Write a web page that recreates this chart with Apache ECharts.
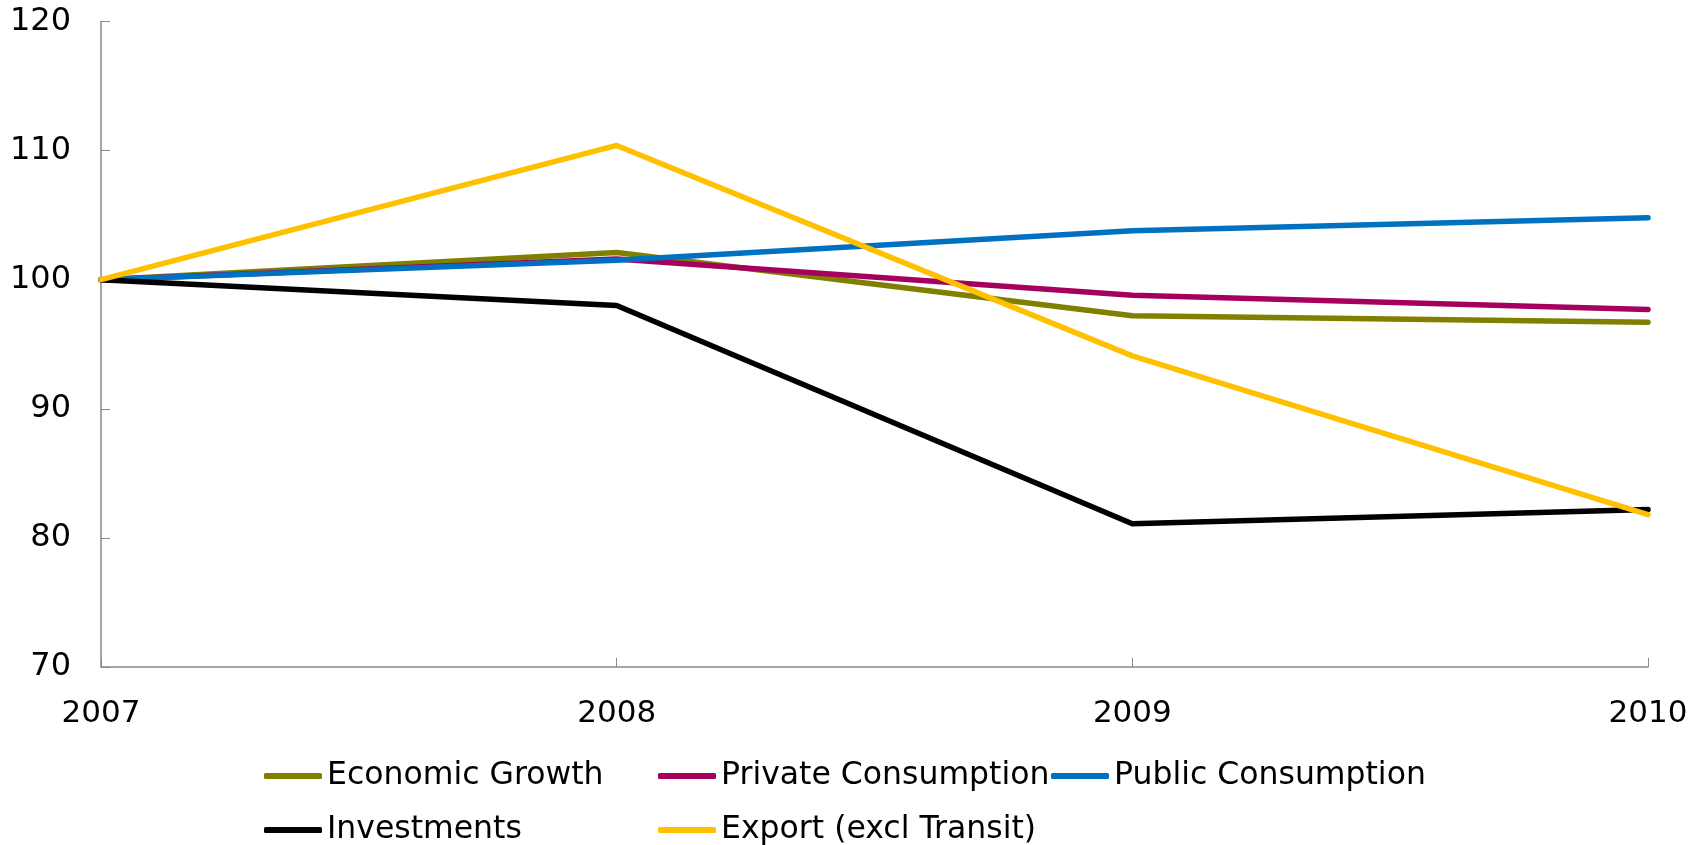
<!DOCTYPE html>
<html>
<head>
<meta charset="utf-8">
<script src="https://cdn.jsdelivr.net/npm/echarts@6/dist/echarts.min.js"></script>
<style>html,body{margin:0;padding:0;background:#fff;}#c{width:1703px;height:845px;}</style>
</head>
<body>
<div id="c"></div>
<script>
const years = ['2007', '2008', '2009', '2010'];
const economicGrowth = [100, 102.1, 97.2, 96.7];
const privateConsumption = [100, 101.6, 98.8, 97.7];
const publicConsumption = [100, 101.5, 103.8, 104.8];
const investments = [100, 98.0, 81.1, 82.2];
const exportExclTransit = [100, 110.4, 94.1, 81.8];
const yTicks = {min: 70, max: 120, step: 10};

const names = ['Economic Growth', 'Private Consumption', 'Public Consumption', 'Investments', 'Export (excl Transit)'];
const values = [economicGrowth, privateConsumption, publicConsumption, investments, exportExclTransit];
const colors = ['#7F7F00', '#A6005E', '#0070C0', '#000000', '#FFC000'];
const legendPos = [[264, 760], [658, 760], [1051, 760], [264, 814], [658, 814]];

const font = 'DejaVu Sans';
const chart = echarts.init(document.getElementById('c'));
chart.setOption({
  animation: false,
  backgroundColor: '#ffffff',
  grid: {left: 101, right: 55, top: 21.5, bottom: 178, containLabel: false},
  xAxis: {
    type: 'category', data: years, boundaryGap: false,
    axisLine: {lineStyle: {color: '#898989', width: 1.5}},
    axisTick: {inside: true, length: 9, lineStyle: {color: '#898989'}},
    axisLabel: {color: '#000', fontFamily: font, fontSize: 31, margin: 31}
  },
  yAxis: {
    type: 'value', min: yTicks.min, max: yTicks.max, interval: yTicks.step,
    splitLine: {show: false},
    axisLine: {show: true, lineStyle: {color: '#898989', width: 1.5}},
    axisTick: {show: true, inside: true, length: 9, lineStyle: {color: '#898989'}},
    axisLabel: {color: '#000', fontFamily: font, fontSize: 32, margin: 30}
  },
  legend: names.map((n, i) => ({
    data: [n], left: legendPos[i][0], top: legendPos[i][1], padding: 0,
    icon: 'roundRect', itemWidth: 58, itemHeight: 6,
    textStyle: {color: '#000', fontFamily: font, fontSize: 31.5, padding: [0, 0, 0, 0]}
  })),
  series: names.map((n, i) => ({
    name: n, type: 'line', data: values[i], symbol: 'none',
    color: colors[i],
    lineStyle: {width: 5.5, color: colors[i], cap: 'round', join: 'round'}
  }))
});
</script>
</body>
</html>
